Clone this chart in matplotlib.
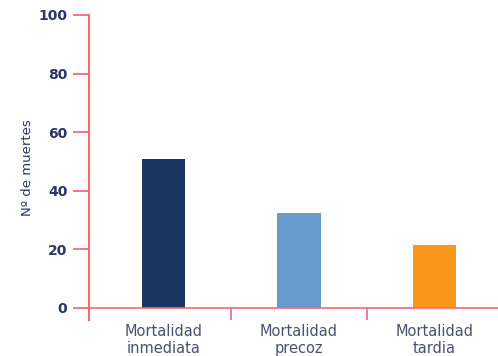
import matplotlib.pyplot as plt

# Datos
categorias = ['Mortalidad\ninmediata', 'Mortalidad\nprecoz', 'Mortalidad\ntardia']
muertes = [51, 32.5, 21.5]
colores = ['#193660', '#6699cc', '#f7981d']
yticks = [0, 20, 40, 60, 80, 100]

rojo = '#f06a78'
azul = '#2b3566'

fig = plt.figure(figsize=(4.98, 3.56), dpi=100)
ax = fig.add_axes([89 / 498, 36 / 356, 1 - 89 / 498, (341 - 36) / 356])

x = range(len(categorias))
ax.bar(x, muertes, width=0.32, color=colores, zorder=2)

ax.set_xlim(-0.55, 2.47)
ax.set_ylim(-4.1, 100)

for s in ['top', 'right', 'bottom']:
    ax.spines[s].set_visible(False)
ax.spines['left'].set_color(rojo)
ax.spines['left'].set_linewidth(1.5)
ax.spines['left'].set_bounds(-4.1, 100)

# linea base y separadores
ax.axhline(0, color=rojo, lw=1.2, zorder=3)
ax.vlines([0.5, 1.5], -4.1, 0, color=rojo, lw=1.2)

ax.set_yticks(yticks)
ax.tick_params(axis='y', length=11.5, width=1.3, color=rojo, pad=4,
               labelsize=10, labelcolor=azul)
for t in ax.get_yticklabels():
    t.set_fontweight('bold')

ax.set_xticks(list(x))
ax.set_xticklabels(categorias, fontsize=10.5, color='#4a5070', linespacing=1.15)
ax.tick_params(axis='x', length=0, pad=3)

ax.set_ylabel('Nº de muertes', fontsize=9.5, color=azul, labelpad=3)

fig.savefig('out.png', dpi=100)
